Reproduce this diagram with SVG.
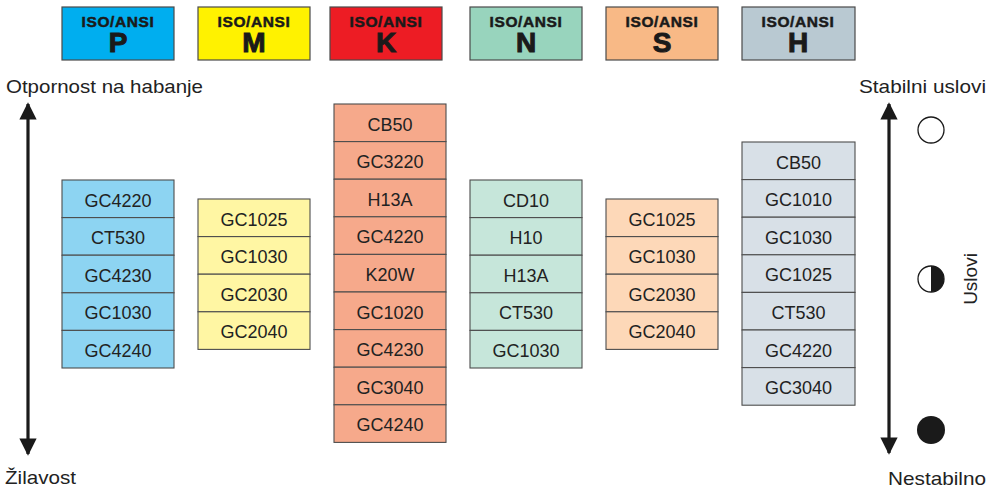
<svg xmlns="http://www.w3.org/2000/svg" width="999" height="488" viewBox="0 0 999 488">
<style>
.hdr{stroke:#4a4a4a;stroke-width:1.2}
.cell{stroke:#4d4d4d;stroke-width:1.1}
.ht{font-family:"Liberation Sans",Arial,sans-serif;font-weight:bold;fill:#1a1a1a;stroke:#1a1a1a;text-anchor:middle}
.iso{font-size:15.5px;letter-spacing:0.6px;stroke-width:0.5}
.big{font-size:28px;stroke-width:1}
.ct{font-family:"Liberation Sans",Arial,sans-serif;font-size:18px;fill:#222;text-anchor:middle}
.lbl{font-family:"Liberation Sans",Arial,sans-serif;font-size:19px;fill:#222}
.ax{stroke:#1a1a1a;stroke-width:3.2;fill:none}
</style>
<defs>
<marker id="ah" viewBox="0 0 10 10" refX="9" refY="5" markerWidth="7" markerHeight="5.4" markerUnits="strokeWidth" orient="auto-start-reverse">
<path d="M0,0 L10,5 L0,10 Z" fill="#1a1a1a"/>
</marker>
</defs>
<rect width="999" height="488" fill="#fff"/>

<g id="hdr-P"><rect class="hdr" x="62" y="7" width="112" height="53" fill="#00aeef"/><text class="ht iso" x="118" y="27">ISO/ANSI</text><text class="ht big" x="118" y="52">P</text></g>
<g id="hdr-M"><rect class="hdr" x="198" y="7" width="112" height="53" fill="#fff200"/><text class="ht iso" x="254" y="27">ISO/ANSI</text><text class="ht big" x="254" y="52">M</text></g>
<g id="hdr-K"><rect class="hdr" x="330" y="7" width="112" height="53" fill="#ed1c24"/><text class="ht iso" x="386" y="27">ISO/ANSI</text><text class="ht big" x="386" y="52">K</text></g>
<g id="hdr-N"><rect class="hdr" x="470" y="7" width="112" height="53" fill="#98d4bd"/><text class="ht iso" x="526" y="27">ISO/ANSI</text><text class="ht big" x="526" y="52">N</text></g>
<g id="hdr-S"><rect class="hdr" x="606" y="7" width="112" height="53" fill="#f8b986"/><text class="ht iso" x="662" y="27">ISO/ANSI</text><text class="ht big" x="662" y="52">S</text></g>
<g id="hdr-H"><rect class="hdr" x="742" y="7" width="113" height="53" fill="#b9c9d2"/><text class="ht iso" x="798" y="27">ISO/ANSI</text><text class="ht big" x="798" y="52">H</text></g>

<g id="col-P" fill="#8dd4f2">
<rect class="cell" x="62" y="180" width="112" height="37.6"/><text class="ct" x="118" y="206.5">GC4220</text>
<rect class="cell" x="62" y="217.6" width="112" height="37.6"/><text class="ct" x="118" y="244.1">CT530</text>
<rect class="cell" x="62" y="255.2" width="112" height="37.6"/><text class="ct" x="118" y="281.7">GC4230</text>
<rect class="cell" x="62" y="292.8" width="112" height="37.6"/><text class="ct" x="118" y="319.3">GC1030</text>
<rect class="cell" x="62" y="330.4" width="112" height="37.6"/><text class="ct" x="118" y="356.9">GC4240</text>
</g>
<g id="col-M" fill="#fff6a3">
<rect class="cell" x="198" y="199" width="112" height="37.6"/><text class="ct" x="254" y="225.5">GC1025</text>
<rect class="cell" x="198" y="236.6" width="112" height="37.6"/><text class="ct" x="254" y="263.1">GC1030</text>
<rect class="cell" x="198" y="274.2" width="112" height="37.6"/><text class="ct" x="254" y="300.7">GC2030</text>
<rect class="cell" x="198" y="311.8" width="112" height="37.6"/><text class="ct" x="254" y="338.3">GC2040</text>
</g>
<g id="col-K" fill="#f6a98b">
<rect class="cell" x="334" y="104" width="112" height="37.6"/><text class="ct" x="390" y="130.5">CB50</text>
<rect class="cell" x="334" y="141.6" width="112" height="37.6"/><text class="ct" x="390" y="168.1">GC3220</text>
<rect class="cell" x="334" y="179.2" width="112" height="37.6"/><text class="ct" x="390" y="205.7">H13A</text>
<rect class="cell" x="334" y="216.8" width="112" height="37.6"/><text class="ct" x="390" y="243.3">GC4220</text>
<rect class="cell" x="334" y="254.4" width="112" height="37.6"/><text class="ct" x="390" y="280.9">K20W</text>
<rect class="cell" x="334" y="292" width="112" height="37.6"/><text class="ct" x="390" y="318.5">GC1020</text>
<rect class="cell" x="334" y="329.6" width="112" height="37.6"/><text class="ct" x="390" y="356.1">GC4230</text>
<rect class="cell" x="334" y="367.2" width="112" height="37.6"/><text class="ct" x="390" y="393.7">GC3040</text>
<rect class="cell" x="334" y="404.8" width="112" height="37.6"/><text class="ct" x="390" y="431.3">GC4240</text>
</g>
<g id="col-N" fill="#c6e6da">
<rect class="cell" x="470" y="180" width="112" height="37.6"/><text class="ct" x="526" y="206.5">CD10</text>
<rect class="cell" x="470" y="217.6" width="112" height="37.6"/><text class="ct" x="526" y="244.1">H10</text>
<rect class="cell" x="470" y="255.2" width="112" height="37.6"/><text class="ct" x="526" y="281.7">H13A</text>
<rect class="cell" x="470" y="292.8" width="112" height="37.6"/><text class="ct" x="526" y="319.3">CT530</text>
<rect class="cell" x="470" y="330.4" width="112" height="37.6"/><text class="ct" x="526" y="356.9">GC1030</text>
</g>
<g id="col-S" fill="#fdd8b8">
<rect class="cell" x="606" y="199" width="112" height="37.6"/><text class="ct" x="662" y="225.5">GC1025</text>
<rect class="cell" x="606" y="236.6" width="112" height="37.6"/><text class="ct" x="662" y="263.1">GC1030</text>
<rect class="cell" x="606" y="274.2" width="112" height="37.6"/><text class="ct" x="662" y="300.7">GC2030</text>
<rect class="cell" x="606" y="311.8" width="112" height="37.6"/><text class="ct" x="662" y="338.3">GC2040</text>
</g>
<g id="col-H" fill="#d8e0e7">
<rect class="cell" x="742" y="142" width="113" height="37.6"/><text class="ct" x="798.5" y="168.5">CB50</text>
<rect class="cell" x="742" y="179.6" width="113" height="37.6"/><text class="ct" x="798.5" y="206.1">GC1010</text>
<rect class="cell" x="742" y="217.2" width="113" height="37.6"/><text class="ct" x="798.5" y="243.7">GC1030</text>
<rect class="cell" x="742" y="254.8" width="113" height="37.6"/><text class="ct" x="798.5" y="281.3">GC1025</text>
<rect class="cell" x="742" y="292.4" width="113" height="37.6"/><text class="ct" x="798.5" y="318.9">CT530</text>
<rect class="cell" x="742" y="330" width="113" height="37.6"/><text class="ct" x="798.5" y="356.5">GC4220</text>
<rect class="cell" x="742" y="367.6" width="113" height="37.6"/><text class="ct" x="798.5" y="394.1">GC3040</text>
</g>

<g id="connectors">
<line class="ax" x1="28" y1="104" x2="28" y2="454" marker-start="url(#ah)" marker-end="url(#ah)"/>
<line class="ax" x1="889" y1="104" x2="889" y2="453" marker-start="url(#ah)" marker-end="url(#ah)"/>
</g>

<g id="labels">
<text class="lbl" x="6" y="93" textLength="197" lengthAdjust="spacingAndGlyphs">Otpornost na habanje</text>
<text class="lbl" x="5" y="484" textLength="71" lengthAdjust="spacingAndGlyphs">Žilavost</text>
<text class="lbl" x="859" y="93" textLength="127" lengthAdjust="spacingAndGlyphs">Stabilni uslovi</text>
<text class="lbl" x="888" y="485" textLength="98" lengthAdjust="spacingAndGlyphs">Nestabilno</text>
<text class="lbl" transform="translate(977,279) rotate(-90)" text-anchor="middle">Uslovi</text>
</g>

<g id="circles">
<circle cx="931" cy="130" r="13" fill="#fff" stroke="#1a1a1a" stroke-width="1.3"/>
<g id="half">
<circle cx="931" cy="279" r="13" fill="#fff" stroke="#1a1a1a" stroke-width="1.3"/>
<path d="M931,266 A13,13 0 0 1 931,292 Z" fill="#1a1a1a"/>
</g>
<circle cx="931" cy="430" r="14" fill="#1a1a1a"/>
</g>
</svg>
